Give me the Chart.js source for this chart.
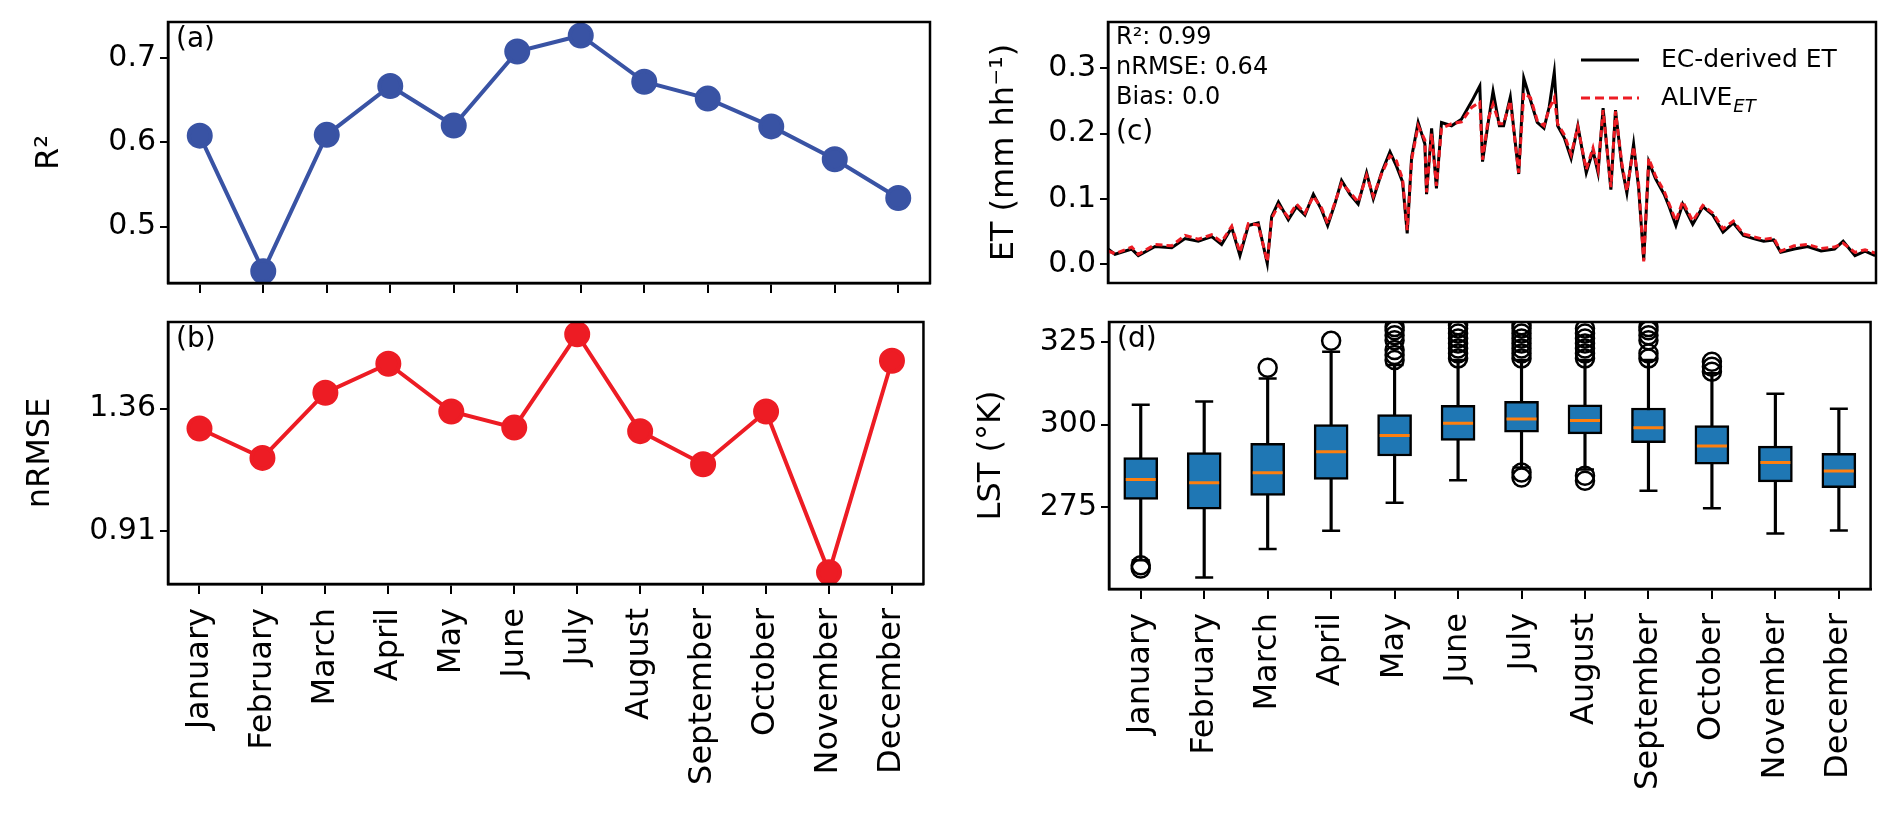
<!DOCTYPE html>
<html>
<head>
<meta charset="utf-8">
<script src="https://cdn.jsdelivr.net/npm/chart.js@4.4.1/dist/chart.umd.min.js"></script>
<style>
  body { margin: 0; background: #fff; width: 1892px; height: 822px; position: relative; overflow: hidden; }
  canvas { position: absolute; }
</style>
</head>
<body>
<canvas id="chartA" width="945" height="305" style="left:0;top:0"></canvas>
<canvas id="chartB" width="945" height="522" style="left:0;top:300px"></canvas>
<canvas id="chartC" width="947" height="305" style="left:945px;top:0"></canvas>
<canvas id="chartD" width="947" height="522" style="left:945px;top:300px"></canvas>
<script>
const months = ['January', 'February', 'March', 'April', 'May', 'June', 'July', 'August', 'September', 'October', 'November', 'December'];

// (a) R² per month
const r2 = [0.608, 0.447, 0.609, 0.667, 0.620, 0.708, 0.727, 0.672, 0.652, 0.619, 0.580, 0.534];
// (b) nRMSE per month
const nrmse = [1.287, 1.179, 1.418, 1.524, 1.349, 1.290, 1.632, 1.277, 1.156, 1.349, 0.760, 1.535];
const nrmseTicks = [0.91, 1.36];

// (c) daily ET, sampled by day of year
const etDays = [0, 3.3, 11.3, 14.4, 22.4, 30.3, 36.6, 42.9, 49.3, 54, 58.8, 62.7, 66.7, 71.4, 75.7, 77.8, 81, 85.7, 89.6, 93.6,
  97.6, 101.5, 104.4, 107.8, 111, 115, 118.9, 122.9, 126.1, 130, 134, 137.1, 140, 142.2, 144.3, 147.4, 150.6, 151.4, 153.8, 156.1,
  158.5, 163.3, 168, 172.8, 176.7, 178, 180.7, 183, 186, 188, 191.2, 195.2, 197.6, 200.8, 204, 207.2, 209.7, 212.1, 213.7, 216.9,
  220.1, 223.3, 227.3, 230.5, 232.9, 235.3, 239, 241.2, 244.2, 246.6, 249.8, 252.2, 254.6, 257, 260.2, 264.3, 266.7, 269.9, 273.1, 277.9,
  282.7, 287.5, 292.3, 297.2, 302, 306.8, 311.6, 316.4, 319.7, 326.1, 332.5, 338.9, 345.3, 349.4, 355, 359.8, 364.6];
const etEC = [0.023, 0.015, 0.023, 0.013, 0.027, 0.025, 0.039, 0.035, 0.042, 0.030, 0.056, 0.013, 0.059, 0.063, 0.001, 0.073, 0.095, 0.068, 0.088, 0.075,
  0.107, 0.083, 0.059, 0.092, 0.128, 0.107, 0.092, 0.140, 0.100, 0.140, 0.172, 0.150, 0.126, 0.047, 0.164, 0.217, 0.184, 0.107, 0.208, 0.116,
  0.217, 0.212, 0.222, 0.249, 0.273, 0.157, 0.217, 0.265, 0.212, 0.212, 0.256, 0.138, 0.285, 0.251, 0.217, 0.208, 0.241, 0.294, 0.212, 0.193,
  0.162, 0.212, 0.140, 0.174, 0.140, 0.239, 0.114, 0.236, 0.150, 0.109, 0.184, 0.116, 0.006, 0.157, 0.131, 0.107, 0.088, 0.059, 0.092, 0.061,
  0.088, 0.075, 0.049, 0.063, 0.044, 0.039, 0.035, 0.037, 0.018, 0.023, 0.027, 0.020, 0.023, 0.035, 0.013, 0.020, 0.013];
const etAlive = [0.020, 0.016, 0.026, 0.015, 0.030, 0.028, 0.044, 0.038, 0.045, 0.034, 0.058, 0.018, 0.062, 0.060, 0.004, 0.070, 0.090, 0.072, 0.092, 0.078,
  0.104, 0.086, 0.062, 0.094, 0.124, 0.110, 0.095, 0.136, 0.104, 0.138, 0.166, 0.158, 0.130, 0.052, 0.160, 0.212, 0.190, 0.110, 0.200, 0.120,
  0.208, 0.215, 0.218, 0.240, 0.248, 0.160, 0.222, 0.245, 0.215, 0.215, 0.250, 0.140, 0.262, 0.255, 0.220, 0.212, 0.238, 0.255, 0.215, 0.198,
  0.168, 0.210, 0.145, 0.178, 0.145, 0.236, 0.118, 0.234, 0.155, 0.112, 0.180, 0.122, 0.004, 0.162, 0.135, 0.112, 0.092, 0.066, 0.096, 0.066,
  0.090, 0.078, 0.054, 0.066, 0.046, 0.042, 0.038, 0.040, 0.020, 0.028, 0.030, 0.024, 0.026, 0.032, 0.018, 0.022, 0.017];

// (d) LST box plot stats per month
const lstLow = [259, 253.8, 262.4, 267.9, 276.4, 283.2, 287, 286.4, 280, 274.7, 267.1, 268];
const lstQ1 = [277.4, 274.4, 278.6, 283.4, 290.5, 295.2, 297.7, 297.2, 294.5, 288, 282.7, 280.9];
const lstMed = [283.4, 282.4, 285.4, 291.8, 296.7, 300.4, 301.7, 301.2, 299, 293.5, 288.5, 286];
const lstQ3 = [290, 291.5, 294.3, 300, 303, 305.8, 307, 306, 305, 299.7, 293.5, 291.3];
const lstHigh = [306, 307, 313.9, 322, 318, 319.5, 319.5, 319.5, 319.5, 315.5, 309.3, 304.8];
const lstOutliers = [
  [256.5, 257.5], [], [317.2], [325.3],
  [319.5, 321, 322.5, 325.5, 327, 328.5, 329.5],
  [320, 321.5, 323, 324.5, 326, 327.5, 329, 330],
  [320, 321.5, 323, 324.5, 326, 327.5, 329, 330, 284, 285.5],
  [320, 321.5, 323, 324.5, 326, 327.5, 329, 283, 284.5],
  [320, 321.5, 325.5, 327, 328.5, 329.5],
  [316, 317.5, 319], [], []
];

const FONT = 'DejaVu Sans';
Chart.defaults.font.family = FONT;
Chart.defaults.color = '#000';
Chart.defaults.animation = false;

// frame + panel label
const framePlugin = {
  id: 'frame',
  afterDraw(chart, args, opts) {
    const { ctx, chartArea: a } = chart;
    ctx.save();
    ctx.strokeStyle = '#000';
    ctx.lineWidth = 2.5;
    ctx.strokeRect(a.left, a.top, a.right - a.left, a.bottom - a.top);
    if (opts.label) {
      ctx.fillStyle = '#000';
      ctx.font = '28px ' + FONT;
      ctx.textBaseline = 'top';
      ctx.fillText(opts.label, a.left + 8, a.top + (opts.labelTop || 6));
    }
    ctx.restore();
  }
};

const fixAxis = (w, h) => (scale) => {
  if (w) scale.width = w;
  if (h) scale.height = h;
};
const keepTicks = (vals) => (scale) => {
  scale.ticks = vals.map(v => ({ value: v }));
};

function yAxis(min, max, width, title, ticks, fmt, titlePad) {
  return {
    min: min, max: max,
    afterFit: fixAxis(width, 0),
    afterBuildTicks: keepTicks(ticks),
    border: { display: true, color: '#000', width: 2.5 },
    grid: { drawOnChartArea: false, drawTicks: true, tickLength: 8, color: '#000', lineWidth: 2 },
    ticks: { font: { size: 30 }, padding: 4, callback: fmt },
    title: { display: true, text: title, font: { size: 32 }, padding: { top: titlePad, bottom: 0 } }
  };
}
function monthAxis(height, showLabels) {
  return {
    type: 'category',
    labels: months,
    offset: true,
    afterFit: fixAxis(0, height),
    border: { display: true, color: '#000', width: 2.5 },
    grid: { drawOnChartArea: false, drawTicks: true, tickLength: 10, color: '#000', lineWidth: 2, offset: false },
    ticks: { display: showLabels, font: { size: 32 }, minRotation: 90, maxRotation: 90, autoSkip: false, padding: 14 }
  };
}

// (a)
new Chart(document.getElementById('chartA'), {
  type: 'line',
  plugins: [framePlugin],
  data: {
    labels: months,
    datasets: [{ data: r2, borderColor: '#3953a4', backgroundColor: '#3953a4', borderWidth: 4, pointRadius: 11, pointHoverRadius: 11 }]
  },
  options: {
    responsive: false,
    layout: { padding: { top: 22, right: 8, left: 0, bottom: 0 } },
    plugins: { legend: { display: false }, tooltip: { enabled: false }, frame: { label: '(a)', labelTop: 4 } },
    scales: {
      x: monthAxis(13, false),
      y: yAxis(0.433, 0.743, 168, 'R²', [0.5, 0.6, 0.7], v => v.toFixed(1), 30)
    }
  }
});

// (b)
new Chart(document.getElementById('chartB'), {
  type: 'line',
  plugins: [framePlugin],
  data: {
    labels: months,
    datasets: [{ data: nrmse, borderColor: '#ed1c24', backgroundColor: '#ed1c24', borderWidth: 4, pointRadius: 11, pointHoverRadius: 11 }]
  },
  options: {
    responsive: false,
    layout: { padding: { top: 16, right: 8, left: 0, bottom: 0 } },
    plugins: { legend: { display: false }, tooltip: { enabled: false }, frame: { label: '(b)', labelTop: 4 } },
    scales: {
      x: monthAxis(238, true),
      y: yAxis(0.717, 1.677, 168, 'nRMSE', nrmseTicks, v => v.toFixed(2), 21)
    }
  }
});

// (c) texts + legend
const etTextPlugin = {
  id: 'etText',
  afterDraw(chart) {
    const { ctx, chartArea: a } = chart;
    ctx.save();
    ctx.fillStyle = '#000';
    ctx.textBaseline = 'middle';
    ctx.font = '24px ' + FONT;
    ctx.fillText('R²: 0.99', a.left + 8, a.top + 16);
    ctx.fillText('nRMSE: 0.64', a.left + 8, a.top + 46);
    ctx.fillText('Bias: 0.0', a.left + 8, a.top + 76);
    ctx.font = '28px ' + FONT;
    ctx.fillText('(c)', a.left + 8, a.top + 111);
    // legend
    const lx = a.right - 295, tx = a.right - 215;
    ctx.lineWidth = 3;
    ctx.strokeStyle = '#000';
    ctx.beginPath(); ctx.moveTo(lx, a.top + 38); ctx.lineTo(lx + 58, a.top + 38); ctx.stroke();
    ctx.strokeStyle = '#ed1c24';
    ctx.setLineDash([9, 5]);
    ctx.beginPath(); ctx.moveTo(lx, a.top + 76); ctx.lineTo(lx + 58, a.top + 76); ctx.stroke();
    ctx.setLineDash([]);
    ctx.font = '25px ' + FONT;
    ctx.fillText('EC-derived ET', tx, a.top + 38);
    ctx.fillText('ALIVE', tx, a.top + 76);
    const w = ctx.measureText('ALIVE').width;
    ctx.font = 'italic 18px ' + FONT;
    ctx.fillText('ET', tx + w + 1, a.top + 85);
    ctx.restore();
  }
};

new Chart(document.getElementById('chartC'), {
  type: 'line',
  plugins: [framePlugin, etTextPlugin],
  data: {
    datasets: [
      { data: etDays.map((d, i) => ({ x: d, y: etEC[i] })), borderColor: '#000', borderWidth: 3, pointRadius: 0, tension: 0, order: 2 },
      { data: etDays.map((d, i) => ({ x: d, y: etAlive[i] })), borderColor: '#ed1c24', borderWidth: 3, borderDash: [7, 4], pointRadius: 0, tension: 0, order: 1 }
    ]
  },
  options: {
    responsive: false,
    layout: { padding: { top: 19, right: 16, left: 0, bottom: 0 } },
    plugins: { legend: { display: false }, tooltip: { enabled: false } },
    scales: {
      x: {
        type: 'linear', min: 0, max: 365,
        afterFit: fixAxis(0, 10),
        border: { display: false },
        grid: { display: false },
        ticks: { display: false }
      },
      y: yAxis(-0.029, 0.371, 163, 'ET (mm hh⁻¹)', [0, 0.1, 0.2, 0.3], v => v.toFixed(1), 40)
    }
  }
});

// (d) box plot from floating bars + point markers
const pts = (vals) => vals.map((v, i) => ({ x: months[i], y: v }));
const outlierPts = [];
lstOutliers.forEach((list, i) => list.forEach(v => outlierPts.push({ x: months[i], y: v })));

new Chart(document.getElementById('chartD'), {
  type: 'bar',
  plugins: [framePlugin],
  data: {
    labels: months,
    datasets: [
      { type: 'bar', data: lstLow.map((v, i) => [v, lstHigh[i]]), backgroundColor: '#000', barThickness: 2.5, grouped: false, order: 6 },
      { type: 'bar', data: lstQ1.map((v, i) => [v, lstQ3[i]]), backgroundColor: '#1f77b4', borderColor: '#000', borderWidth: 2.5, borderSkipped: false, barThickness: 34, grouped: false, order: 5 },
      { type: 'line', data: pts(lstLow), showLine: false, pointStyle: 'line', pointRadius: 9, borderColor: '#000', borderWidth: 2.5, order: 3 },
      { type: 'line', data: pts(lstHigh), showLine: false, pointStyle: 'line', pointRadius: 9, borderColor: '#000', borderWidth: 2.5, order: 3 },
      { type: 'line', data: pts(lstMed), showLine: false, pointStyle: 'line', pointRadius: 15, borderColor: '#ff7f0e', borderWidth: 3, order: 1 },
      { type: 'line', data: outlierPts, showLine: false, pointStyle: 'circle', pointRadius: 9, borderColor: '#000', backgroundColor: 'rgba(0,0,0,0)', borderWidth: 2.5, order: 2 }
    ]
  },
  options: {
    responsive: false,
    layout: { padding: { top: 22, right: 10, left: 0, bottom: 0 } },
    plugins: { legend: { display: false }, tooltip: { enabled: false }, frame: { label: '(d)', labelTop: 4 } },
    scales: {
      x: monthAxis(233, true),
      y: yAxis(250.3, 331, 164, 'LST (°K)', [275, 300, 325], v => String(v), 27)
    }
  }
});
</script>
</body>
</html>
